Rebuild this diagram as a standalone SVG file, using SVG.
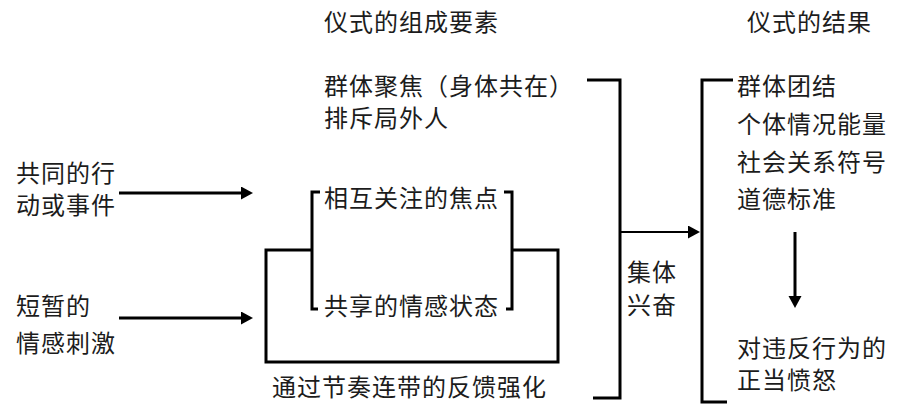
<svg xmlns="http://www.w3.org/2000/svg" width="897" height="405" viewBox="0 0 897 405">
<defs>
<style>
text{font-family:"Noto Sans CJK SC","Noto Sans",sans-serif;font-size:24px;letter-spacing:1px;fill:#1c1c1c}
.ln{fill:none;stroke:#000;stroke-width:3;stroke-linejoin:miter;stroke-linecap:butt}
.thin{stroke-width:2}
</style>
<marker id="ah" markerUnits="userSpaceOnUse" markerWidth="14" markerHeight="14" refX="2" refY="6.5" orient="auto">
<path d="M0,0 L12,6.5 L0,13 z" fill="#000"/>
</marker>
</defs>
<rect width="897" height="405" fill="#fff"/>
<g id="title-elements"><text x="324" y="31">仪式的组成要素</text></g>
<g id="title-results"><text x="747" y="31">仪式的结果</text></g>
<g id="group-focus"><text x="324" y="95">群体聚焦（身体共在）</text><text x="324" y="127">排斥局外人</text></g>
<g id="common-action"><text x="16" y="182">共同的行</text><text x="16" y="214">动或事件</text></g>
<g id="emotion-stimulus"><text x="16" y="315">短暂的</text><text x="16" y="352">情感刺激</text></g>
<g id="mutual-focus"><text x="324" y="207">相互关注的焦点</text></g>
<g id="shared-mood"><text x="324" y="315">共享的情感状态</text></g>
<g id="feedback"><text x="272" y="396">通过节奏连带的反馈强化</text></g>
<g id="effervescence"><text x="627" y="281">集体</text><text x="627" y="314">兴奋</text></g>
<g id="results"><text x="737" y="95">群体团结</text><text x="737" y="133">个体情况能量</text><text x="737" y="171">社会关系符号</text><text x="737" y="208">道德标准</text></g>
<g id="anger"><text x="737" y="357">对违反行为的</text><text x="737" y="389">正当愤怒</text></g>
<g id="connectors">
<polyline class="ln" points="587,80 620,80 620,398 593,398"/>
<polyline class="ln" points="733,80 702,80 702,402 727,402"/>
<polyline class="ln" points="320,192 312,192 312,309 318,309"/>
<polyline class="ln" points="504,192 512,192 512,309 506,309"/>
<polyline class="ln" points="312,250 266,250 266,362 558,362 558,250 512,250"/>
<line class="ln" x1="119" y1="193" x2="243" y2="193" marker-end="url(#ah)"/>
<line class="ln" x1="119" y1="318" x2="243" y2="318" marker-end="url(#ah)"/>
<line class="ln thin" x1="620" y1="232" x2="690" y2="232" marker-end="url(#ah)"/>
<line class="ln" x1="795" y1="232" x2="795" y2="298" marker-end="url(#ah)"/>
</g>
</svg>
